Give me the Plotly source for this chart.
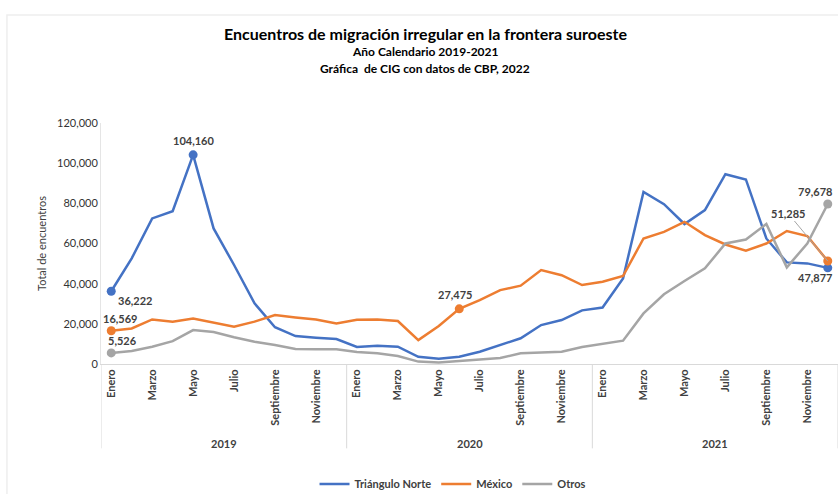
import plotly.graph_objects as go

months = ["Enero", "Febrero", "Marzo", "Abril", "Mayo", "Junio", "Julio", "Agosto",
          "Septiembre", "Octubre", "Noviembre", "Diciembre"]
years = ["2019", "2020", "2021"]

triangulo_norte = [36222, 52600, 72500, 76100, 104160, 67500, 49300, 30200, 18300, 13900, 13100, 12400,
                   8500, 9100, 8600, 3600, 2600, 3600, 6100, 9500, 12800, 19400, 21900, 26700,
                   28100, 42600, 85700, 79600, 69700, 76600, 94500, 91900, 62500, 50600, 50100, 47877]
mexico = [16569, 17700, 22200, 21100, 22700, 20600, 18600, 21100, 24400, 23200, 22200, 20200,
          22000, 22200, 21400, 11900, 18900, 27475, 31800, 36800, 39000, 46800, 44200, 39300,
          41000, 43800, 62500, 65800, 70800, 64200, 59500, 56400, 60000, 66200, 63700, 51285]
otros = [5526, 6500, 8600, 11400, 16900, 15900, 13300, 11100, 9500, 7500, 7300, 7300,
         6000, 5300, 4000, 1200, 800, 1500, 2000, 3000, 5300, 5600, 6100, 8500,
         10000, 11600, 25200, 34700, 41300, 47600, 60000, 62000, 69700, 48100, 60000, 79678]

series_names = ["Triángulo Norte", "México", "Otros"]
colors = ["#4472C4", "#ED7D31", "#A5A5A5"]
labeled = [[0, 4, 35], [0, 17, 35], [0, 35]]

FONT = "Lato, 'Open Sans', sans-serif"
TXT = "#404040"

n = len(triangulo_norte)
x = list(range(n))

fig = go.Figure()
for name, vals, col in zip(series_names, [triangulo_norte, mexico, otros], colors):
    fig.add_trace(go.Scatter(x=x, y=vals, mode="lines", name=name,
                             line=dict(color=col, width=2.5)))
for vals, col, idx in zip([triangulo_norte, mexico, otros], colors, labeled):
    fig.add_trace(go.Scatter(x=idx, y=[vals[i] for i in idx], mode="markers",
                             marker=dict(color=col, size=9), showlegend=False,
                             hoverinfo="skip"))

# data labels
lab_font = dict(family=FONT, size=11, color=TXT, weight="bold")
def lab(xi, yv, **kw):
    fig.add_annotation(x=xi, y=yv, text=f"{yv:,}", showarrow=False, font=lab_font, **kw)

lab(0, triangulo_norte[0], xanchor="left", yanchor="top", xshift=5, yshift=-1)
lab(4, triangulo_norte[4], xanchor="center", yanchor="bottom", yshift=6)
lab(35, triangulo_norte[35], xanchor="right", yanchor="top", xshift=6, yshift=-1)
lab(0, mexico[0], xanchor="left", yanchor="bottom", xshift=-10, yshift=4)
lab(17, mexico[17], xanchor="center", yanchor="bottom", xshift=-4, yshift=6)
lab(0, otros[0], xanchor="left", yanchor="bottom", xshift=-5, yshift=4)
lab(35, otros[35], xanchor="right", yanchor="bottom", xshift=6, yshift=4)
fig.add_annotation(x=35, y=mexico[35], text=f"{mexico[35]:,}", showarrow=True,
                   arrowhead=0, arrowwidth=1, arrowcolor="#A5A5A5", ax=-40, ay=-48,
                   font=lab_font)

# year labels and separators
for k, yr in enumerate(years):
    fig.add_annotation(x=k * 12 + 5.5, y=-0.328, yref="paper", text=yr, showarrow=False,
                       font=dict(family=FONT, size=11, color=TXT, weight="bold"),
                       yanchor="middle")
for k in range(len(years) + 1):
    fig.add_shape(type="line", x0=k * 12 - 0.5, x1=k * 12 - 0.5, y0=0, y1=-0.35,
                  xref="x", yref="paper", line=dict(color="#D9D9D9", width=1))

# chart border
fig.add_shape(type="rect", xref="paper", yref="paper", x0=-0.1276, x1=1.05, y0=-0.6, y1=1.448,
              line=dict(color="#EEEEEE", width=1.5), layer="below")

# titles
titles = [("Encuentros de migración irregular en la frontera suroeste", 16, 33),
          ("Año Calendario 2019-2021", 12, 52),
          ("Gráfica  de CIG con datos de CBP, 2022", 12, 69)]
for t, s, ypix in titles:
    fig.add_annotation(x=(425 - 101) / 737, y=1 + (123 - ypix) / 241, xref="paper", yref="paper",
                       text=t, showarrow=False, xanchor="center", yanchor="middle",
                       font=dict(family=FONT, size=s, color="#000000", weight="bold"))

tickvals = list(range(0, n, 2))
ticktext = [months[i % 12] for i in tickvals]

fig.update_layout(
    width=838, height=494,
    margin=dict(l=101, r=0, t=123, b=130),
    plot_bgcolor="white", paper_bgcolor="white",
    font=dict(family=FONT, color=TXT),
    showlegend=True,
    legend=dict(orientation="h", xref="container", yref="container",
                x=0.54, xanchor="center", y=0.02, yanchor="middle",
                font=dict(family=FONT, size=11, color=TXT, weight="bold"),
                itemwidth=30, bgcolor="rgba(0,0,0,0)"),
    xaxis=dict(range=[-0.5, 35.5], tickmode="array", tickvals=tickvals, ticktext=ticktext,
               tickangle=-90, showgrid=False, zeroline=False, showline=True,
               linecolor="#D9D9D9", linewidth=1, ticks="", automargin=False,
               tickfont=dict(family=FONT, size=11, color=TXT, weight="bold")),
    yaxis=dict(range=[0, 120000], tickvals=[0, 20000, 40000, 60000, 80000, 100000, 120000],
               tickformat=",d", showgrid=False, zeroline=False, showline=True,
               linecolor="#E5E5E5", linewidth=1, ticks="", automargin=False,
               tickfont=dict(family=FONT, size=11, color="#333333"),
               title=dict(text="Total de encuentros", standoff=8,
                          font=dict(family=FONT, size=11, color=TXT))),
)

fig.write_html("out.html", config={"displayModeBar": False},
               post_script="document.body.style.margin='0';")
